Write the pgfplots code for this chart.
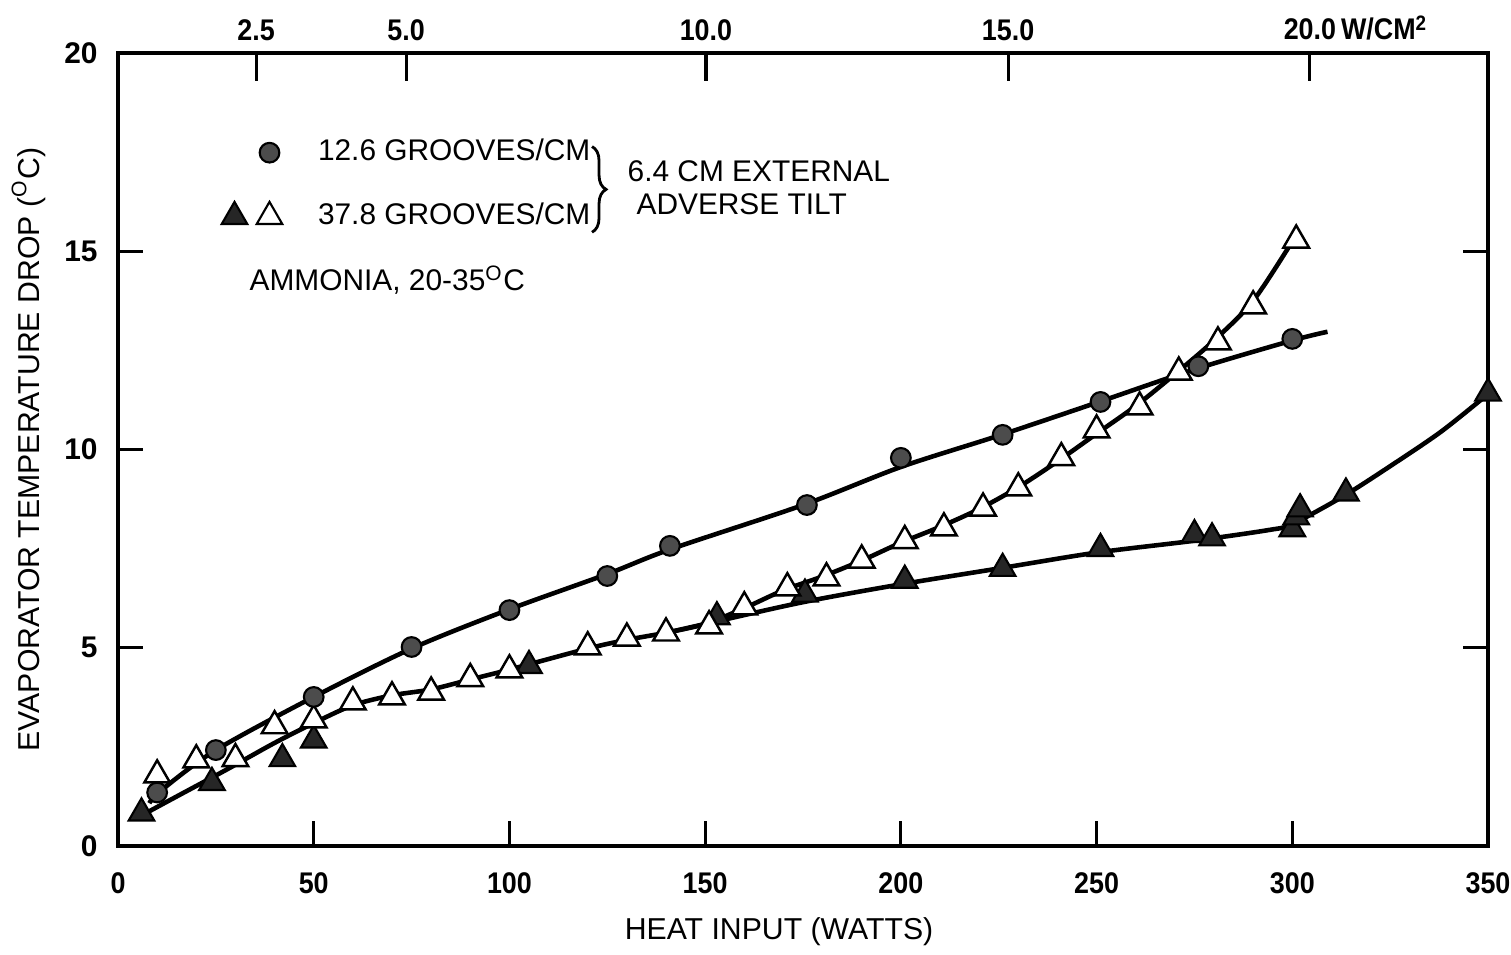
\documentclass[border=0pt]{standalone}
\usepackage{fontspec}
\setmainfont{Liberation Sans}
\newfontfamily\tickfont[FakeStretch=0.9]{Liberation Sans}
\usepackage{pgfplots}
\pgfplotsset{compat=1.18}
\usetikzlibrary{decorations.pathreplacing}

\pgfplotstableread{
x y
10 1.35
25 2.42
50 3.76
75 5.02
100 5.95
125 6.81
141 7.57
176 8.6
200 9.79
226 10.37
251 11.2
276 12.1
300 12.79
}\circles
\pgfplotstableread{
x y
10 1.79
20 2.17
30 2.2
40 3.03
50 3.18
60 3.63
70 3.76
80 3.88
90 4.22
100 4.44
120 5.02
130 5.24
140 5.37
151 5.55
160 6.03
171 6.51
181 6.76
190 7.21
201 7.7
211 8.02
221 8.52
230 9.03
241 9.79
250 10.49
261 11.07
271 11.95
281 12.71
290 13.62
301 15.28
}\opentri
\pgfplotstableread{
x y
6 0.83
24 1.6
42 2.2
50 2.67
105 4.55
153 5.78
175.5 6.35
201 6.7
226 7.0
251 7.5
275 7.85
279.5 7.77
300 8.0
301 8.3
302 8.5
313.7 8.9
350 11.42
}\filledtri

\begin{document}
\begin{tikzpicture}
\begin{axis}[
  at={(0,0)}, anchor=south west, scale only axis,
  width=13.7cm, height=7.93cm,
  xmin=0, xmax=350, ymin=0, ymax=20,
  xtick={0,50,...,350}, ytick={0,5,...,20},
  xtick pos=bottom, ytick pos=both, yticklabel pos=left,
  tick align=inside, major tick length=0.25cm,
  axis line style={line width=0.9pt},
  every tick/.style={black, line width=0.9pt},
  /pgf/number format/assume math mode=true,
  xticklabel style={font=\tickfont\bfseries\fontsize{8.5}{10}\selectfont, yshift=-0.14cm},
  yticklabel style={font=\bfseries\fontsize{8.5}{10}\selectfont, xshift=-0.08cm},
  xlabel={HEAT INPUT (WATTS)},
  ylabel={EVAPORATOR TEMPERATURE DROP (\textsuperscript{O}C)},
  label style={font=\fontsize{8.6}{10}\selectfont},
  xlabel style={at={(axis description cs:0.4825,-0.1084)}, anchor=center},
  ylabel style={at={(axis description cs:-0.065,0.5)}, anchor=center},
  clip=false,
  legend cell align=left,
  legend style={draw=none, fill=none, inner sep=0pt, row sep=0.3cm,
    at={(axis description cs:0.0752,0.8966)}, anchor=north west,
    font=\fontsize{8.5}{10}\selectfont,
    nodes={inner sep=1pt}},
]
\addlegendimage{legend image code/.code={
  \path[draw=none, fill=none] (0cm,-0.15cm) rectangle (0.9cm,0.15cm);
  \draw[black, fill=black!70, line width=0.6pt] (0.45cm,0cm) circle (2.8pt);}}
\addlegendentry{12.6 GROOVES/CM}
\addlegendimage{legend image code/.code={
  \path[draw=none, fill=none] (0cm,-0.15cm) rectangle (0.9cm,0.15cm);
  \draw[mark size=4.2pt, mark options={draw=black, fill=black!85, line width=0.6pt}] plot[mark=triangle*] coordinates {(0.1cm,0cm)};
  \draw[mark size=4.2pt, mark options={draw=black, fill=white, line width=0.6pt}] plot[mark=triangle*] coordinates {(0.45cm,0cm)};}}
\addlegendentry{37.8 GROOVES/CM}

% fitted curves
\addplot[black, line width=1.3pt, smooth, no markers] coordinates {
(8,1.08) (11,1.4) (25,2.42) (50,3.76) (75,4.98) (100,5.97) (125,6.86) (141,7.48)
(175,8.6) (200,9.56) (225,10.35) (250,11.18) (275,12.02) (300,12.75) (309,12.97)};
\addplot[black, line width=1.3pt, smooth, no markers] coordinates {
(7.5,0.85) (15,1.25) (25,1.78) (30,2.05) (40,2.6) (50,3.1) (60,3.55) (70,3.8)
(80,3.95) (90,4.2) (100,4.45) (120,4.98) (130,5.2) (140,5.38) (150,5.6)
(175,6.15) (200,6.6) (225,7.0) (250,7.4) (275,7.7) (294,7.97) (300,8.12)
(313,8.82) (325,9.58) (338,10.45) (350,11.4)};
\addplot[black, line width=1.3pt, smooth, no markers] coordinates {
(140,5.38) (150,5.6) (160,6.0) (170,6.45) (180,6.8) (190,7.2) (200,7.65)
(210,8.05) (220,8.5) (230,9.05) (240,9.7) (250,10.4) (260,11.1) (270,11.9)
(280,12.75) (290,13.75) (300,15.25)};

% data points
\addplot[only marks, mark=triangle*, mark size=4.2pt,
  mark options={draw=black, fill=black!85, line width=0.6pt}] table {\filledtri};
\addplot[only marks, mark=triangle*, mark size=4.2pt,
  mark options={draw=black, fill=white, line width=0.7pt}] table {\opentri};
\addplot[only marks, mark=*, mark size=2.8pt,
  mark options={draw=black, fill=black!70, line width=0.6pt}] table {\circles};

% annotations
\draw[decorate, decoration={brace, amplitude=4pt}, line width=0.8pt]
  (axis description cs:0.346,0.882) -- (axis description cs:0.346,0.774);
\node[anchor=west, font=\fontsize{8.5}{10}\selectfont, inner sep=0pt]
  at (axis description cs:0.3715,0.851) {6.4 CM EXTERNAL};
\node[anchor=west, font=\fontsize{8.5}{10}\selectfont, inner sep=0pt]
  at (axis description cs:0.378,0.8096) {ADVERSE TILT};
\node[anchor=west, font=\fontsize{8.5}{10}\selectfont, inner sep=0pt]
  at (axis description cs:0.0956,0.7137) {AMMONIA, 20-35\textsuperscript{O}C};
\end{axis}

\begin{axis}[
  at={(0,0)}, anchor=south west, scale only axis,
  width=13.7cm, height=7.93cm,
  xmin=0, xmax=350, ymin=0, ymax=20,
  axis x line*=top, axis y line=none,
  xtick={35.3,73.6,150.2,227.4,304.5},
  xticklabels={2.5,5.0,10.0,15.0,{20.0\rlap{\,W/CM\textsuperscript{2}}}},
  tick align=inside, major tick length=0.28cm,
  axis line style={line width=0.9pt, -},
  every tick/.style={black, line width=0.9pt},
  xticklabel style={font=\tickfont\bfseries\fontsize{8.5}{10}\selectfont},
]
\addplot[draw=none] coordinates {(0,0)};
\end{axis}

\pgfresetboundingbox
\path[use as bounding box] (-1.18cm,-1.08cm) rectangle (13.93cm,8.46cm);
\end{tikzpicture}
\end{document}
